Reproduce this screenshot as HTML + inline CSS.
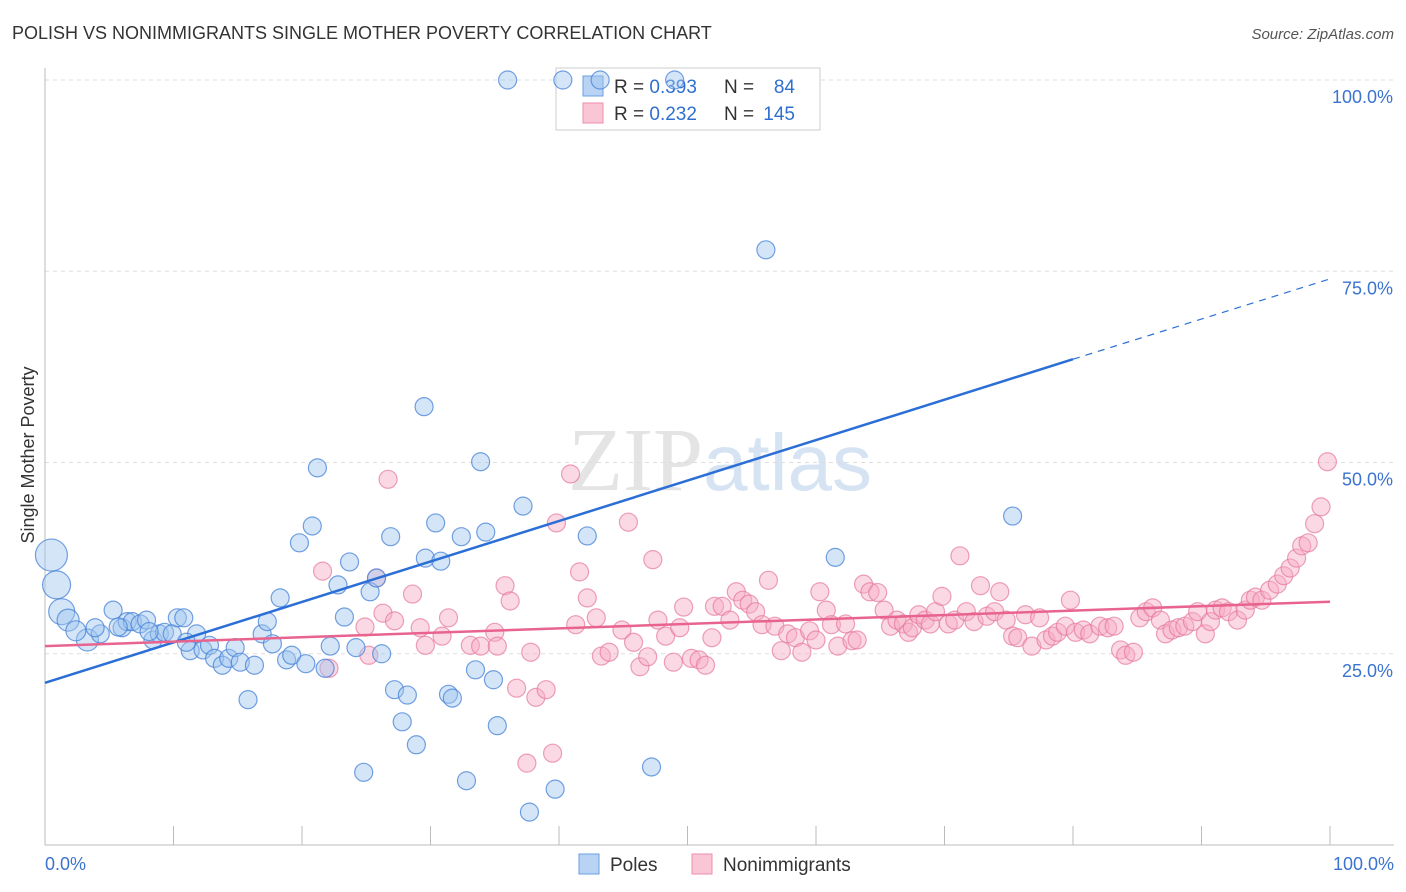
<!DOCTYPE html>
<html><head><meta charset="utf-8"><style>
body{margin:0;background:#fff;font-family:"Liberation Sans",sans-serif;}
svg{display:block}
</style></head><body>
<svg id="chart" width="1406" height="892" viewBox="0 0 1406 892">
<text x="12" y="39" font-size="18" fill="#333">POLISH VS NONIMMIGRANTS SINGLE MOTHER POVERTY CORRELATION CHART</text>
<text x="1394" y="39" font-size="15" fill="#555" text-anchor="end" font-style="italic">Source: ZipAtlas.com</text>
<text x="720" y="490" font-size="90" fill="#e4e4e4" text-anchor="middle" font-family="Liberation Serif">ZIP<tspan fill="#d5e3f3" font-family="Liberation Sans" font-size="80">atlas</tspan></text>
<text transform="translate(34,455) rotate(-90)" font-size="18" fill="#333" text-anchor="middle">Single Mother Poverty</text>
<g id="grid"></g><g id="axes"></g>
<g>
<rect x="556" y="68" width="264" height="62" fill="#fff" stroke="#ccc"/>
<rect x="583" y="76" width="20" height="20" fill="#b8d3f3" stroke="#6a9fe0"/>
<rect x="583" y="103" width="20" height="20" fill="#f9c6d5" stroke="#ee8eaa"/>
<text x="614" y="93" font-size="19" fill="#333">R = <tspan fill="#2f6fcf">0.393</tspan></text>
<text x="724" y="93" font-size="19" fill="#333">N = </text>
<text x="795" y="93" font-size="19" fill="#2f6fcf" text-anchor="end">84</text>
<text x="614" y="120" font-size="19" fill="#333">R = <tspan fill="#2f6fcf">0.232</tspan></text>
<text x="724" y="120" font-size="19" fill="#333">N = </text>
<text x="795" y="120" font-size="19" fill="#2f6fcf" text-anchor="end">145</text>
</g>
<g id="pts"></g><g id="lines"></g>
<g>
<rect x="579" y="854" width="20" height="20" fill="#b8d3f3" stroke="#6a9fe0"/>
<text x="610" y="871" font-size="19" fill="#333">Poles</text>
<rect x="692" y="854" width="20" height="20" fill="#f9c6d5" stroke="#ee8eaa"/>
<text x="723" y="871" font-size="19" fill="#333">Nonimmigrants</text>
</g>
</svg>
<script>
const yTicks=[25,50,75,100];
const yTickLabels=["25.0%","50.0%","75.0%","100.0%"];
const xEndLabels=["0.0%","100.0%"];
const polesX=[0.5,0.9,1.3,1.8,3.3,4.3,3.9,5.3,6.0,6.4,6.8,7.4,7.9,8.4,8.9,9.3,9.9,10.3,10.8,11.3,11.8,12.3,12.8,13.2,13.8,14.3,14.8,15.2,15.8,16.3,16.9,17.3,17.7,18.3,18.8,19.2,19.8,20.3,20.8,21.2,21.8,22.2,22.8,23.3,23.7,24.2,24.8,25.3,25.8,26.2,26.9,27.2,27.8,28.2,28.9,29.5,29.6,30.4,30.8,31.4,31.7,32.4,32.8,33.5,33.9,34.3,34.9,35.2,36.0,37.2,37.7,39.7,40.3,42.2,43.2,47.2,49.0,56.1,61.5,75.3,2.4,5.7,8.1,11.0];
const polesY=[37.9,34.0,30.5,29.4,26.8,27.6,28.4,30.7,28.4,29.2,29.2,28.9,29.4,26.8,27.6,27.8,27.6,29.7,29.7,25.4,27.6,25.5,26.1,24.4,23.5,24.4,25.8,23.9,19.0,23.5,27.6,29.2,26.3,32.3,24.2,24.8,39.5,23.7,41.7,49.3,23.1,26.0,34.0,29.8,37.0,25.8,9.5,33.1,34.9,25.0,40.3,20.3,16.1,19.6,13.1,57.3,37.5,42.1,37.1,19.7,19.2,40.3,8.4,22.9,50.1,40.9,21.6,15.6,100,44.3,4.3,7.3,100,40.4,100,10.2,100,77.8,37.6,43.0,28.0,28.5,27.9,26.5];
const polesR=[16,14,13,11,11,9,9,9,9,9,9,9,9,9,9,9,9,9,9,9,9,9,9,9,9,9,9,9,9,9,9,9,9,9,9,9,9,9,9,9,9,9,9,9,9,9,9,9,9,9,9,9,9,9,9,9,9,9,9,9,9,9,9,9,9,9,9,9,9,9,9,9,9,9,9,9,9,9,9,9,10,9,9,9];
const nonX=[21.6,22.1,24.9,25.2,25.8,26.3,26.7,27.2,28.6,29.2,29.6,30.9,31.4,33.1,33.9,35.0,35.2,35.8,36.2,36.7,37.8,38.2,39.0,37.5,39.5,39.8,40.9,41.3,41.6,42.2,42.9,43.3,43.9,44.9,45.4,45.8,46.3,46.9,47.3,47.7,48.3,48.9,49.4,49.7,50.3,50.9,51.4,51.9,52.1,52.7,53.3,53.8,54.3,54.8,55.3,55.8,56.3,56.8,57.3,57.8,58.4,58.9,59.5,60.0,60.3,60.8,61.2,61.7,62.3,62.8,63.2,63.7,64.2,64.8,65.3,65.8,66.3,66.8,67.2,67.5,68.0,68.5,68.9,69.3,69.8,70.3,70.8,71.2,71.7,72.3,72.8,73.3,73.9,74.3,74.8,75.3,75.7,76.3,76.8,77.4,77.9,78.4,78.8,79.4,79.8,80.2,80.8,81.3,82.1,82.7,83.2,83.7,84.1,84.7,85.2,85.7,86.2,86.8,87.2,87.7,88.2,88.7,89.3,89.7,90.3,90.7,91.1,91.6,92.1,92.8,93.4,93.8,94.2,94.7,95.3,95.9,96.4,96.9,97.4,97.8,98.3,98.8,99.3,99.8];
const nonY=[35.8,23.1,28.5,24.8,34.9,30.3,47.8,29.3,32.8,28.4,26.1,27.3,29.7,26.1,26.0,27.8,26.0,33.9,31.9,20.5,25.2,19.3,20.3,10.7,12.0,42.1,48.5,28.8,35.7,32.3,29.7,24.7,25.2,28.1,42.2,26.5,23.3,24.6,37.3,29.4,27.3,23.9,28.4,31.1,24.4,24.2,23.5,27.1,31.2,31.2,29.4,33.1,32.0,31.5,30.5,28.8,34.6,28.6,25.4,27.6,27.1,25.2,28.0,26.8,33.1,30.7,28.8,26.0,28.9,26.7,26.8,34.1,33.1,33.0,30.7,28.6,29.4,28.9,27.8,28.4,30.1,29.4,28.9,30.5,32.5,28.9,29.4,37.8,30.5,29.2,33.9,29.9,30.5,33.1,29.4,27.3,27.1,30.1,26.0,29.7,26.8,27.3,27.8,28.6,32.0,27.8,28.1,27.6,28.6,28.4,28.6,25.5,24.8,25.2,29.7,30.5,31.0,29.4,27.6,28.1,28.4,28.6,29.2,30.5,27.6,29.2,30.7,31.0,30.5,29.4,30.7,32.0,32.4,32.0,33.3,34.1,35.2,36.2,37.5,39.1,39.5,42.0,44.2,50.1];
const polesTrend=[[0,21.2],[80,63.5],[100,74.0]];
const nonTrend=[[0,26.0],[100,31.8]];
const NS="http://www.w3.org/2000/svg";
const X=v=>45+v*12.85, Y=v=>845-v*7.65;
function mk(t,a,p){const e=document.createElementNS(NS,t);for(const k in a)e.setAttribute(k,a[k]);p.appendChild(e);return e;}
const grid=document.getElementById('grid'),axes=document.getElementById('axes'),pts=document.getElementById('pts'),lines=document.getElementById('lines');
yTicks.forEach((t,i)=>{
 const l=mk('line',{x1:45,x2:1394,y1:Y(t),y2:Y(t),stroke:'#ddd','stroke-dasharray':'4,4'},grid);
 
 
 const tx=mk('text',{x:1393,y:Y(t)+23,'font-size':18,fill:'#3a73d0','text-anchor':'end'},axes);
 tx.textContent=yTickLabels[i];
 
 
});
const ax=mk('line',{x1:45,x2:45,y1:68,y2:845,stroke:'#bbb'},axes);


const bx=mk('line',{x1:45,x2:1394,y1:845,y2:845,stroke:'#bbb'},axes);


for(let i=1;i<=10;i++){const tk=mk('line',{x1:X(i*10),x2:X(i*10),y1:826,y2:845,stroke:'#bbb'},axes);
 
 }
[[X(0),'start'],[X(100)+64,'end']].forEach((p,i)=>{const t=mk('text',{x:p[0],y:870,'font-size':18,fill:'#3a73d0','text-anchor':p[1]},axes);t.textContent=xEndLabels[i];
 
 });
nonX.forEach((v,i)=>{const c=mk('circle',{cx:X(v),cy:Y(nonY[i]),r:9,fill:'rgba(246,170,195,0.45)',stroke:'rgba(230,120,155,0.7)','stroke-width':1.2},pts);
 
 });
polesX.forEach((v,i)=>{const c=mk('circle',{cx:X(v),cy:Y(polesY[i]),r:polesR[i],fill:'rgba(160,198,240,0.45)',stroke:'rgba(70,130,215,0.75)','stroke-width':1.2},pts);
 
 });
const b1=mk('line',{x1:X(polesTrend[0][0]),y1:Y(polesTrend[0][1]),x2:X(polesTrend[1][0]),y2:Y(polesTrend[1][1]),stroke:'#2b6fd6','stroke-width':2.5},lines);


const b2=mk('line',{x1:X(polesTrend[1][0]),y1:Y(polesTrend[1][1]),x2:X(polesTrend[2][0]),y2:Y(polesTrend[2][1]),stroke:'#2b6fd6','stroke-width':1.2,'stroke-dasharray':'7,6'},lines);


const p1=mk('line',{x1:X(nonTrend[0][0]),y1:Y(nonTrend[0][1]),x2:X(nonTrend[1][0]),y2:Y(nonTrend[1][1]),stroke:'#e8648e','stroke-width':2.5},lines);


</script>
</body></html>
